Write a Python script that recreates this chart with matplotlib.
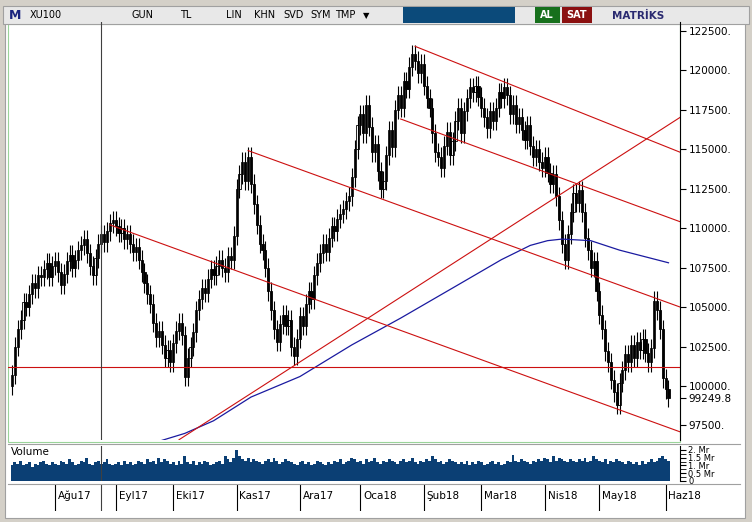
import matplotlib
matplotlib.use("Agg")
import matplotlib.pyplot as plt
import numpy as np
import pandas as pd
from matplotlib.patches import Rectangle

closes = [100.7,102.5,103.6,104.2,105.3,105.0,
105.8,106.5,106.2,107.0,106.9,107.4,107.8,106.9,107.6,107.9,
107.2,106.4,107.1,107.9,108.3,107.5,108.0,108.6,108.9,109.3,
108.4,107.6,107.0,108.1,109.0,109.6,109.1,109.8,110.3,110.5,
110.1,109.7,110.0,109.3,109.6,109.0,108.5,108.8,108.0,107.2,
106.5,105.8,105.2,104.0,103.1,103.5,102.6,101.8,102.3,101.5,
102.7,103.5,104.0,103.2,100.6,101.8,102.5,103.4,104.8,105.5,
106.2,105.9,106.8,107.4,107.0,107.6,108.0,107.5,107.2,108.2,
108.0,109.5,112.5,113.4,114.2,113.0,114.5,112.8,111.5,110.2,
109.0,108.6,107.5,106.0,104.8,103.6,102.8,103.9,104.5,103.8,
104.2,102.5,101.9,103.0,104.4,103.8,105.2,106.0,105.5,107.0,
107.8,108.4,109.0,108.5,109.4,110.1,109.8,110.6,110.9,111.2,
111.7,112.0,113.2,115.0,116.5,117.2,116.0,117.8,116.4,114.8,
115.3,113.6,112.5,113.0,114.6,116.2,115.1,117.5,118.4,117.6,
119.3,118.8,120.2,121.0,120.6,119.8,120.4,119.0,118.2,117.6,
116.0,114.8,114.5,113.8,115.2,116.1,114.6,115.5,116.8,117.6,
116.0,117.4,118.2,118.9,118.6,119.0,118.3,117.6,117.0,116.3,
117.4,116.8,117.6,118.6,118.2,118.9,118.4,117.2,117.8,116.6,
117.0,116.2,115.6,116.5,115.2,114.5,115.0,114.2,113.8,114.5,
113.5,112.8,113.4,112.0,110.5,109.0,108.0,109.6,111.0,112.2,
111.6,112.4,111.0,109.4,108.6,107.5,107.9,106.0,104.5,103.6,
102.2,101.5,100.4,99.6,98.8,100.2,101.0,102.0,101.5,102.6,
101.8,102.8,102.3,103.0,102.1,101.5,102.4,105.4,104.8,103.6,
100.5,99.8,99.2498]

volumes = [1.0,1.2,1.1,1.3,1.0,1.1,1.2,0.9,1.1,1.0,1.2,1.3,1.1,1.0,1.2,1.1,
1.0,1.3,1.2,1.1,1.4,1.2,1.0,1.1,1.3,1.2,1.5,1.1,1.0,1.2,1.3,1.1,1.2,1.4,1.1,1.0,
1.1,1.2,1.0,1.3,1.1,1.2,1.0,1.1,1.3,1.2,1.1,1.4,1.2,1.3,1.1,1.5,1.2,1.4,1.3,1.1,
1.2,1.0,1.3,1.1,1.6,1.2,1.1,1.3,1.0,1.2,1.1,1.3,1.2,1.0,1.1,1.2,1.3,1.1,1.6,1.4,
1.2,1.5,2.0,1.6,1.4,1.3,1.5,1.2,1.4,1.3,1.2,1.1,1.3,1.4,1.2,1.5,1.3,1.1,1.2,1.4,
1.3,1.2,1.1,1.0,1.2,1.3,1.1,1.2,1.0,1.1,1.3,1.2,1.1,1.0,1.2,1.1,1.3,1.2,1.4,1.1,
1.2,1.3,1.5,1.4,1.2,1.3,1.1,1.4,1.2,1.3,1.5,1.2,1.1,1.3,1.2,1.4,1.3,1.2,1.1,1.3,
1.4,1.2,1.3,1.5,1.2,1.1,1.3,1.2,1.4,1.3,1.6,1.4,1.2,1.3,1.1,1.2,1.4,1.3,1.2,1.1,
1.2,1.1,1.3,1.0,1.2,1.1,1.3,1.2,1.0,1.1,1.2,1.3,1.1,1.2,1.0,1.1,1.3,1.2,1.7,1.3,
1.2,1.4,1.3,1.2,1.1,1.3,1.2,1.4,1.3,1.5,1.4,1.2,1.6,1.3,1.5,1.4,1.3,1.2,1.4,1.3,
1.2,1.4,1.3,1.5,1.2,1.3,1.6,1.4,1.3,1.2,1.4,1.1,1.3,1.2,1.4,1.3,1.2,1.1,1.3,1.2,
1.1,1.2,1.0,1.3,1.1,1.2,1.4,1.2,1.3,1.5,1.6,1.4,1.3]

ma_idx = [51, 60, 70, 83, 100, 118, 135, 153, 170, 180, 186, 191, 201, 211, 228]
ma_vals = [96.5, 97.0, 97.8, 99.3, 100.6, 102.6, 104.3, 106.2, 108.0, 108.9, 109.2, 109.3, 109.2, 108.6, 107.8]

month_labels = ["Ağu17","Eyl17","Eki17","Kas17","Ara17","Oca18","Şub18","Mar18","Nis18","May18","Haz18"]
month_idx = [15, 36, 56, 78, 100, 121, 143, 163, 185, 204, 227]

# trendlines (index, price in thousands)
trend_lines = [((34, 110.2), (232, 97.1)),
               ((82, 114.9), (232, 105.0)),
               ((135, 116.9), (232, 110.4)),
               ((140, 121.5), (232, 114.8)),
               ((58, 96.6), (232, 117.0))]
hline = 101.2
cursor_idx = 31

price_ticks = [97.5, 100.0, 102.5, 105.0, 107.5, 110.0, 112.5, 115.0, 117.5, 120.0, 122.5]

W, H = 752, 522
fig = plt.figure(figsize=(W/100, H/100), dpi=100)
fig.patch.set_facecolor("#d4d0c8")

def fx(x): return x / W
def fy(y): return 1 - y / H

def rect(x, y, w, h, fc, ec="none", lw=0.8):
    fig.patches.append(Rectangle((fx(x), fy(y + h)), w / W, h / H, transform=fig.transFigure,
                                 facecolor=fc, edgecolor=ec, lw=lw, zorder=-5))

rect(5, 22, 740, 496, "white", "#a0a0a0")
rect(8, 24, 672, 418, "white", "#9ad49a")
rect(3, 6, 746, 18, "#e8e8e8", "#a0a0a0")
rect(403, 7, 112, 16, "#0b4a7a")
rect(535, 7, 25, 16, "#17701c")
rect(562, 7, 30, 16, "#8b1010")
ty = fy(15.5)
fig.text(fx(9), ty, "M", fontsize=9, weight="bold", color="#1a237e", va="center")
for t, x in [("XU100", 30), ("GUN", 131), ("TL", 180), ("LIN", 226), ("KHN", 254),
             ("SVD", 283), ("SYM", 310), ("TMP", 335)]:
    fig.text(fx(x), ty, t, fontsize=7, color="black", va="center")
fig.text(fx(363), ty, "▼", fontsize=6, va="center")
fig.text(fx(540), ty, "AL", fontsize=7, color="white", weight="bold", va="center")
fig.text(fx(566), ty, "SAT", fontsize=7, color="white", weight="bold", va="center")
fig.text(fx(612), ty, "MATRİKS", fontsize=7.5, color="#2a2a70", weight="bold", va="center")

n = len(closes)
idx = np.arange(n)
c = np.array(closes) * 1000
o = np.concatenate([[100000], c[:-1]])
hi = np.maximum(o, c) + 600
lo = np.minimum(o, c) - 600

ax = fig.add_axes([fx(8), fy(440), fx(672), 418/H])
ax.patch.set_alpha(0)
ax.set_xlim(-1.4, 232)
ax.set_ylim(96582, 123041)
up = c >= o
ax.vlines(idx, lo, hi, color="black", lw=0.8)
ax.bar(idx[up], (c - o)[up], bottom=o[up], width=0.75, color="white", edgecolor="black", lw=0.6)
ax.bar(idx[~up], (o - c)[~up], bottom=c[~up], width=0.75, color="black", edgecolor="black", lw=0.6)
ax.plot(ma_idx, np.array(ma_vals) * 1000, color="#1a1aa0", lw=0.9)
for (x0, y0), (x1, y1) in trend_lines:
    ax.plot([x0, x1], [y0 * 1000, y1 * 1000], color="#cc1010", lw=0.8)
ax.axhline(hline * 1000, color="#cc1010", lw=0.8)
ax.axvline(cursor_idx, color="#404040", lw=0.8)
ax.yaxis.tick_right()
ax.set_yticks([p * 1000 for p in price_ticks] + [c[-1]])
ax.set_yticklabels([f"{p*1000:.0f}." for p in price_ticks] + [f"{c[-1]:.1f}"], fontsize=7.5)
ax.tick_params(axis="y", length=4, pad=2)
ax.set_xticks([])
for s in ["top", "left", "bottom"]:
    ax.spines[s].set_visible(False)
ax.spines["right"].set_color("black")

axv = fig.add_axes([fx(8), fy(481), fx(672), 35/H])
axv.patch.set_alpha(0)
axv.bar(idx, volumes, width=1.0, color="#0b3f74")
axv.set_xlim(-1.4, 232)
axv.set_ylim(0, 2.25)
axv.axvline(cursor_idx, color="#404040", lw=0.8)
axv.yaxis.tick_right()
axv.set_yticks([0, 0.5, 1, 1.5, 2])
axv.set_yticklabels(["0", "0.5 Mr", "1. Mr", "1.5 Mr", "2. Mr"], fontsize=6)
axv.set_yticks([0.25, 0.75, 1.25, 1.75], minor=True)
axv.tick_params(axis="y", which="both", length=4, pad=2)
axv.set_xticks([])
for s in ["top", "left", "bottom"]:
    axv.spines[s].set_visible(False)
axv.text(0.005, 0.97, "Volume", transform=axv.transAxes, fontsize=7.5, va="top")
fig.lines.append(plt.Line2D([fx(8), fx(740)], [fy(444), fy(444)], transform=fig.transFigure, color="#a0a0a0", lw=0.8))
fig.lines.append(plt.Line2D([fx(8), fx(740)], [fy(484), fy(484)], transform=fig.transFigure, color="#a0a0a0", lw=0.8))

axd = fig.add_axes([fx(8), fy(511), fx(672), 27/H])
axd.set_xlim(-1.4, 232)
axd.set_ylim(0, 1)
axd.axis("off")
for m, i in zip(month_labels, month_idx):
    axd.axvline(i, color="black", lw=0.8)
    axd.text(i + 1, 0.55, m, fontsize=7.5, va="center")
axd.axvline(cursor_idx, color="#404040", lw=0.8)

fig.savefig("out.png", dpi=100, facecolor=fig.get_facecolor())
